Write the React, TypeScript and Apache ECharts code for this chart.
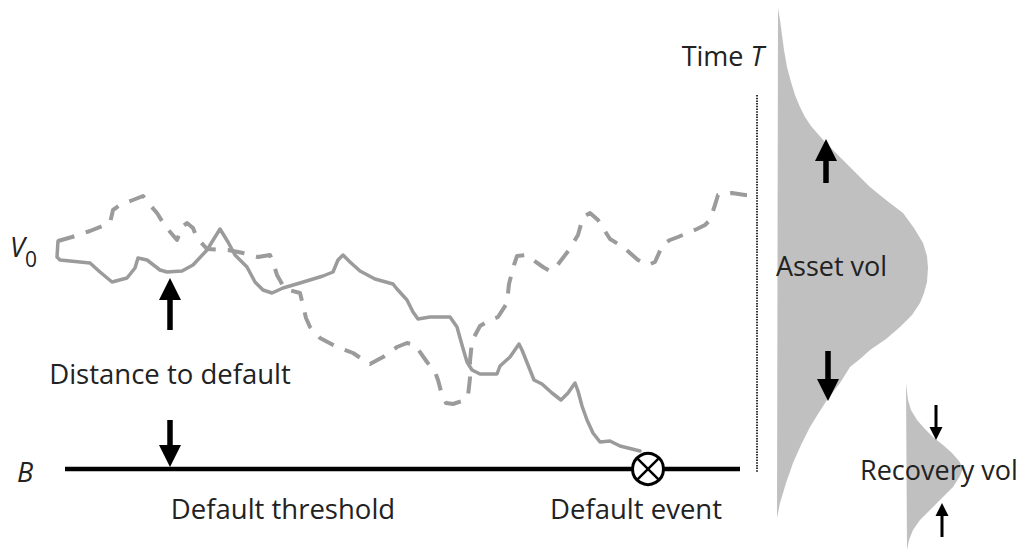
import React, { useEffect, useRef } from "react";
import * as echarts from "echarts";

// ---- Data (x: time position, y: asset level position) ----
const solidX = [58, 57, 60, 90, 100, 112, 127, 135, 138, 147, 160, 167, 182, 193, 207, 220, 228, 235, 247, 255, 263, 272, 283, 300, 323, 333, 338, 343, 350, 360, 375, 393, 397, 407, 413, 418, 430, 450, 457, 462, 467, 472, 480, 497, 500, 510, 519, 522, 530, 534, 542, 552, 561, 568, 575, 578, 582, 587, 593, 600, 610, 620, 632, 640];
const solidY = [241, 257, 260, 263, 272, 282, 278, 268, 258, 260, 270, 272, 271, 265, 250, 229, 242, 255, 267, 282, 290, 293, 288, 283, 276, 272, 260, 255, 262, 271, 279, 284, 289, 300, 312, 319, 317, 317, 327, 345, 362, 370, 374, 374, 366, 357, 344, 350, 370, 380, 384, 393, 400, 393, 383, 391, 406, 420, 433, 442, 441, 446, 449, 451];

const dashedX = [58, 72, 90, 110, 113, 120, 133, 143, 150, 157, 165, 177, 182, 187, 193, 197, 207, 228, 243, 258, 270, 273, 277, 285, 300, 303, 306, 310, 320, 337, 353, 362, 370, 383, 397, 407, 415, 427, 435, 438, 442, 446, 453, 465, 468, 470, 470, 472, 480, 490, 498, 507, 509, 514, 517, 526, 543, 550, 556, 569, 578, 583, 590, 598, 610, 623, 638, 648, 655, 663, 670, 678, 697, 705, 710, 715, 718, 732, 745, 757];
const dashedY = [241, 237, 231, 223, 210, 205, 200, 196, 205, 213, 226, 240, 227, 223, 228, 238, 249, 250, 253, 257, 255, 262, 275, 289, 293, 305, 318, 327, 338, 347, 353, 359, 364, 357, 347, 343, 345, 362, 372, 380, 395, 403, 404, 400, 396, 378, 361, 341, 326, 320, 317, 303, 284, 265, 256, 255, 267, 271, 267, 250, 235, 217, 213, 220, 239, 247, 260, 265, 262, 244, 240, 237, 229, 225, 220, 205, 195, 193, 195, 195];

const thresholdX = [65, 740];
const thresholdY = [469, 469];

const horizonX = [757, 757];
const horizonY = [95, 472];

const defaultEventX = [648];
const defaultEventY = [469];

// asset value distribution at time T (outline)
const assetVolX = [778, 780, 782, 784, 787, 791, 795, 800, 805, 811, 817, 825, 834, 843, 852, 861, 870, 886, 903, 914, 923, 927, 928, 927, 924, 920, 912, 900, 886, 870, 860, 850, 840, 827, 818, 810, 801, 793, 786, 780, 777];
const assetVolY = [8, 20, 35, 50, 67, 82, 95, 107, 117, 126, 133, 142, 151, 160, 169, 178, 187, 200, 213, 228, 243, 256, 268, 282, 293, 303, 315, 327, 339, 350, 359, 367, 383, 400, 414, 427, 445, 463, 483, 503, 518];

// recovery distribution (outline)
const recoveryVolX = [906, 907, 908, 911, 917, 924, 933, 943, 952, 959, 963, 960, 953, 945, 937, 928, 920, 913, 909, 907];
const recoveryVolY = [383, 392, 400, 410, 420, 428, 437, 445, 453, 461, 468, 476, 487, 495, 503, 512, 520, 530, 540, 550];

// arrows: x, tail, tip
const arrowX = [170, 170, 826, 828, 936, 942];
const arrowTail = [330, 420, 183, 351, 405, 537];
const arrowTip = [278, 467, 139, 401, 440, 503];
const arrowKind = ["big", "big", "big", "big", "small", "small"];

const FONT = "'Open Sans', 'Noto Sans', sans-serif";
const TEXT_COLOR = "#222";
const PATH_COLOR = "#9b9b9b";
const FILL_COLOR = "#c0c0c0";

function txt(text: string, x: number, y: number, align: string, extra: any = {}) {
  return {
    type: "text",
    z: 100,
    x,
    y,
    style: {
      text,
      fill: TEXT_COLOR,
      fontFamily: FONT,
      fontSize: 27,
      align,
      verticalAlign: "middle",
      ...extra,
    },
  };
}

function polygonSeries(xs: number[], ys: number[], color: string) {
  return {
    type: "custom",
    coordinateSystem: "cartesian2d",
    z: 1,
    silent: true,
    data: xs.map((x, i) => [x, ys[i]]),
    renderItem: (params: any, api: any) => {
      if (params.dataIndex !== 0) return null;
      const pts = xs.map((x, i) => api.coord([x, ys[i]]));
      return {
        type: "polygon",
        shape: { points: pts },
        style: { fill: color, stroke: "none" },
      };
    },
  };
}

export default function App() {
  const ref = useRef<HTMLDivElement>(null);

  useEffect(() => {
    if (!ref.current) return;
    const chart = echarts.init(ref.current, undefined, { renderer: "svg" });
    const option: any = {
      animation: false,
      backgroundColor: "#ffffff",
      grid: { left: 0, right: 0, top: 0, bottom: 0, containLabel: false },
      xAxis: { type: "value", min: 0, max: 1022, show: false },
      yAxis: { type: "value", min: 0, max: 550, inverse: true, show: false },
      series: [
        polygonSeries(assetVolX, assetVolY, FILL_COLOR),
        polygonSeries(recoveryVolX, recoveryVolY, FILL_COLOR),
        {
          type: "line",
          z: 3,
          symbol: "none",
          silent: true,
          data: horizonX.map((x, i) => [x, horizonY[i]]),
          lineStyle: { color: "#333", width: 2, type: [1.5, 1.2] },
        },
        {
          type: "line",
          z: 4,
          symbol: "none",
          silent: true,
          data: dashedX.map((x, i) => [x, dashedY[i]]),
          lineStyle: { color: PATH_COLOR, width: 4, type: [17, 12], join: "round" },
        },
        {
          type: "line",
          z: 5,
          symbol: "none",
          silent: true,
          data: solidX.map((x, i) => [x, solidY[i]]),
          lineStyle: { color: PATH_COLOR, width: 3.5, join: "round", cap: "round" },
        },
        {
          type: "line",
          z: 6,
          symbol: "none",
          silent: true,
          data: thresholdX.map((x, i) => [x, thresholdY[i]]),
          lineStyle: { color: "#000", width: 4.5 },
        },
        {
          type: "custom",
          coordinateSystem: "cartesian2d",
          z: 7,
          silent: true,
          data: defaultEventX.map((x, i) => [x, defaultEventY[i]]),
          renderItem: (params: any, api: any) => {
            const c = api.coord([api.value(0), api.value(1)]);
            const r = 15.5;
            const d = r * 0.7071;
            return {
              type: "group",
              children: [
                { type: "circle", shape: { cx: c[0], cy: c[1], r }, style: { fill: "#fff", stroke: "#000", lineWidth: 3 } },
                { type: "line", shape: { x1: c[0] - d, y1: c[1] - d, x2: c[0] + d, y2: c[1] + d }, style: { stroke: "#000", lineWidth: 2.5 } },
                { type: "line", shape: { x1: c[0] - d, y1: c[1] + d, x2: c[0] + d, y2: c[1] - d }, style: { stroke: "#000", lineWidth: 2.5 } },
              ],
            };
          },
        },
        {
          type: "custom",
          coordinateSystem: "cartesian2d",
          z: 8,
          silent: true,
          data: arrowX.map((x, i) => [x, arrowTail[i], arrowTip[i]]),
          renderItem: (params: any, api: any) => {
            const x = api.value(0);
            const p1 = api.coord([x, api.value(1)]);
            const p2 = api.coord([x, api.value(2)]);
            const big = arrowKind[params.dataIndex] === "big";
            const L = big ? 22 : 13;
            const W = big ? 22 : 13;
            const S = big ? 5.5 : 3;
            const dir = p2[1] > p1[1] ? 1 : -1;
            const baseY = p2[1] - dir * L;
            return {
              type: "group",
              children: [
                { type: "line", shape: { x1: p1[0], y1: p1[1], x2: p2[0], y2: baseY + dir * 2 }, style: { stroke: "#000", lineWidth: S } },
                { type: "polygon", shape: { points: [[p2[0], p2[1]], [p2[0] - W / 2, baseY], [p2[0] + W / 2, baseY]] }, style: { fill: "#000" } },
              ],
            };
          },
        },
      ],
      graphic: [
        {
          type: "text",
          z: 100,
          x: 764,
          y: 55,
          style: {
            text: "{n|Time }{i|T}",
            align: "right",
            verticalAlign: "middle",
            fill: TEXT_COLOR,
            fontFamily: FONT,
            fontSize: 27,
            rich: {
              n: { fontFamily: FONT, fontSize: 27, fill: TEXT_COLOR },
              i: { fontFamily: FONT, fontSize: 27, fontStyle: "italic", fill: TEXT_COLOR },
            },
          },
        },
        txt("V", 10, 246, "left", { fontStyle: "italic" }),
        txt("0", 25, 259, "left", { fontSize: 21 }),
        txt("B", 17, 471, "left", { fontStyle: "italic" }),
        txt("Distance to default", 170, 373, "center", { fontSize: 27.5 }),
        txt("Default threshold", 283, 508, "center", { fontSize: 27.5 }),
        txt("Default event", 636, 508, "center", { fontSize: 27.5 }),
        txt("Asset vol", 776, 265, "left"),
        txt("Recovery vol", 860, 469, "left"),
      ],
    };
    chart.setOption(option);
    return () => chart.dispose();
  }, []);

  return (
    <div
      ref={ref}
      style={{ position: "fixed", left: 0, top: 0, width: 1022, height: 550, background: "#fff" }}
    />
  );
}
